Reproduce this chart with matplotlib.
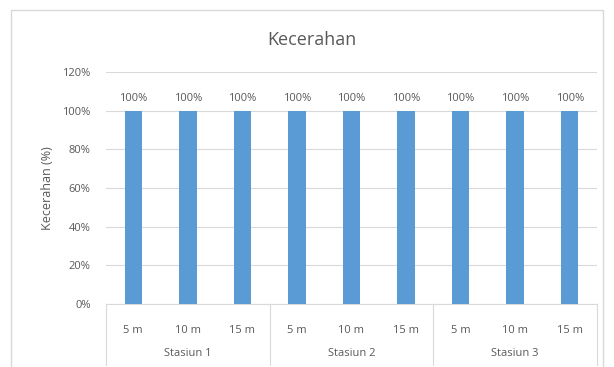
import matplotlib
matplotlib.use("Agg")
import matplotlib.pyplot as plt
from matplotlib.patches import Rectangle
from matplotlib.lines import Line2D

categories = ["5 m", "10 m", "15 m", "5 m", "10 m", "15 m", "5 m", "10 m", "15 m"]
groups = ["Stasiun 1", "Stasiun 2", "Stasiun 3"]
values = [100, 100, 100, 100, 100, 100, 100, 100, 100]
yticks = [0, 20, 40, 60, 80, 100, 120]

plt.rcParams['font.family'] = ['Open Sans', 'DejaVu Sans']
gray = "#595959"
W, H = 614, 367
fig = plt.figure(figsize=(W/100, H/100), dpi=100)
fig.patch.set_facecolor("white")

# chart frame
fig.add_artist(Rectangle((11/W, -0.05), (603-11)/W, 1 - 10/H + 0.05, transform=fig.transFigure,
                         fill=False, edgecolor="#D9D9D9", lw=1.0))

ax = fig.add_axes([106/W, 1-304/H, (597-106)/W, (304-72)/H])
x = list(range(len(categories)))
bars = ax.bar(x, values, width=0.32, color="#5B9BD5", zorder=3)
for xi, v in zip(x, values):
    ax.text(xi, v + 3.5, f"{v}%", ha="center", va="bottom", fontsize=8, color=gray)

ax.set_xlim(-0.5, len(categories) - 0.5)
ax.set_ylim(0, 120)
ax.set_yticks(yticks)
ax.set_yticklabels([f"{t}%" for t in yticks], fontsize=8, color=gray)
ax.yaxis.grid(True, color="#D9D9D9", lw=0.8, zorder=0)
for s in ["top", "right", "left"]:
    ax.spines[s].set_visible(False)
ax.spines["bottom"].set_color("#D9D9D9")
ax.tick_params(axis="y", length=0, pad=11)
ax.tick_params(axis="x", length=0)
ax.set_xticks(x)
ax.set_xticklabels(categories, fontsize=8, color=gray)
ax.tick_params(axis="x", pad=15)
ax.set_ylabel("Kecerahan (%)", fontsize=9, color=gray, labelpad=6)

# group separators and labels
trans = ax.get_xaxis_transform()
for b in [-0.5, 2.5, 5.5, 8.5]:
    ax.add_line(Line2D([b, b], [0, -61/232], transform=trans, color="#D9D9D9", lw=0.8, clip_on=False))
for i, g in enumerate(groups):
    ax.text(3*i + 1, -50/232, g, transform=trans, ha="center", va="center", fontsize=8, color=gray)

fig.text(312/W, 1-40/H, "Kecerahan", ha="center", va="center", fontsize=13, color=gray)

fig.savefig("out.png", dpi=100)
